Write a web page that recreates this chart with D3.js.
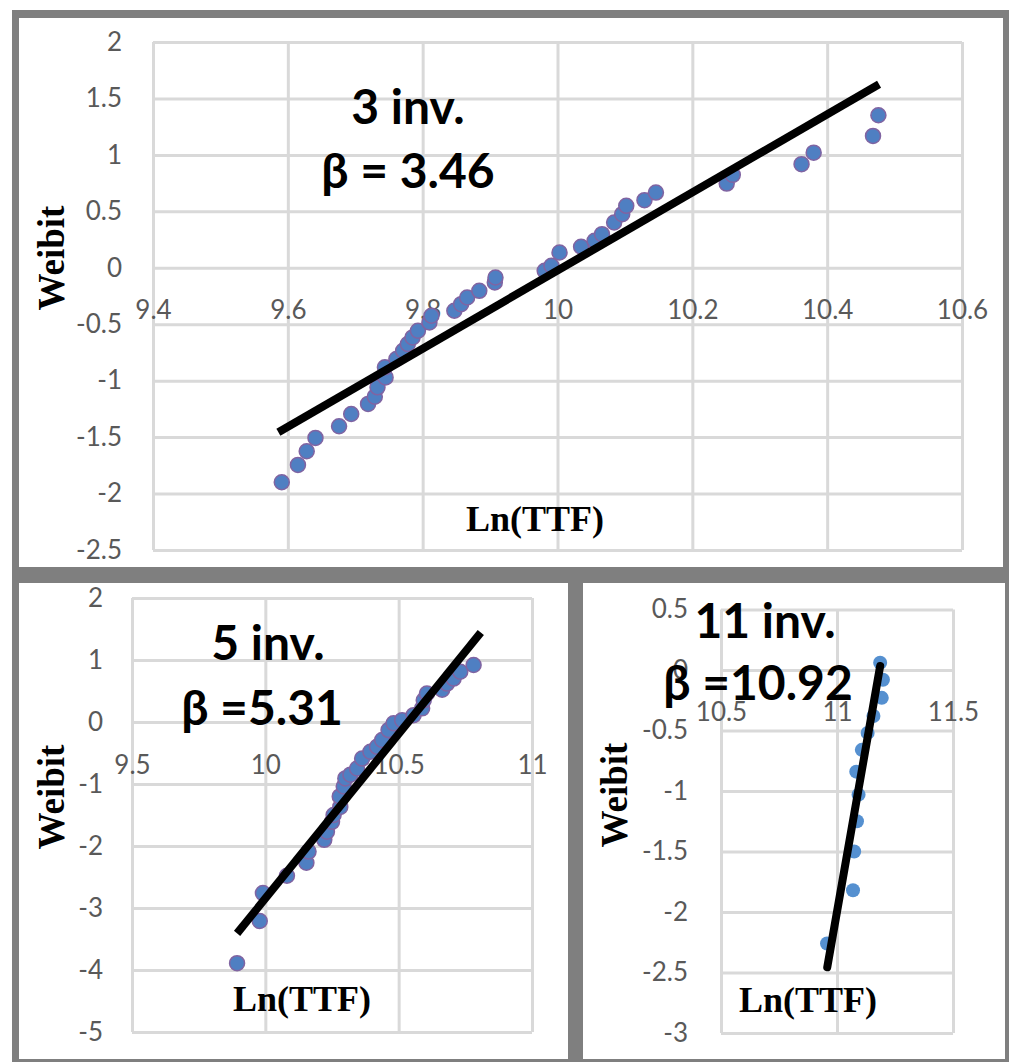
<!DOCTYPE html>
<html>
<head>
<meta charset="utf-8">
<script src="https://cdn.jsdelivr.net/npm/d3@7"></script>
<style>
  html, body { margin: 0; padding: 0; background: #fff; }
  svg { display: block; }
  .tick text { font-family: Lato, "Open Sans", sans-serif; font-size: 26px; fill: #595959; }
</style>
</head>
<body>
<svg id="chart" width="1009" height="1062"></svg>
<script>
// Weibull probability plots: Weibit vs Ln(TTF) for 3, 5 and 11 inverters

// 3 inverters
const lnTTF3 = [9.591, 9.615, 9.628, 9.641, 9.676, 9.694, 9.719, 9.729, 9.733, 9.745,
  9.744, 9.761, 9.771, 9.778, 9.785, 9.793, 9.810, 9.813, 9.847, 9.857,
  9.866, 9.884, 9.907, 9.908, 9.981, 9.991, 10.003, 10.035, 10.055, 10.066,
  10.084, 10.096, 10.102, 10.129, 10.146, 10.251, 10.260, 10.362, 10.380, 10.468, 10.476];
const weibit3 = [-1.90, -1.746, -1.625, -1.507, -1.404, -1.295, -1.206, -1.142, -1.059, -0.971,
  -0.882, -0.808, -0.735, -0.676, -0.617, -0.558, -0.484, -0.425, -0.381, -0.322,
  -0.263, -0.204, -0.130, -0.086, -0.027, 0.018, 0.135, 0.186, 0.239, 0.298,
  0.401, 0.475, 0.549, 0.599, 0.666, 0.746, 0.823, 0.918, 1.02, 1.168, 1.351];

// 5 inverters
const lnTTF5 = [9.894, 9.979, 9.991, 10.081, 10.154, 10.162, 10.221, 10.231, 10.250, 10.256,
  10.281, 10.279, 10.294, 10.300, 10.319, 10.344, 10.363, 10.394, 10.419, 10.438,
  10.462, 10.481, 10.513, 10.556, 10.588, 10.594, 10.606, 10.663, 10.681, 10.706,
  10.731, 10.781];
const weibit5 = [-3.89, -3.21, -2.76, -2.48, -2.27, -2.09, -1.90, -1.77, -1.61, -1.50,
  -1.37, -1.20, -1.04, -0.91, -0.85, -0.75, -0.59, -0.48, -0.40, -0.29,
  -0.13, -0.02, 0.03, 0.11, 0.22, 0.35, 0.46, 0.52, 0.62, 0.70,
  0.81, 0.92];

// 11 inverters
const lnTTF11 = [10.957, 11.069, 11.074, 11.086, 11.093, 11.083, 11.107, 11.132, 11.157, 11.193, 11.198, 11.186];
const weibit11 = [-2.26, -1.82, -1.50, -1.25, -1.03, -0.84, -0.66, -0.52, -0.38, -0.23, -0.08, 0.06];

// Fitted lines: Weibit = beta * (Ln(TTF) - x0)
const betas = [3.46, 5.31, 10.92];
const fitX0 = [10.007, 10.536, 11.183];
const fitFrom = [9.586, 9.894, 10.958];
const fitTo = [10.477, 10.808, 11.186];

// Axis ticks
const xTicks3 = [9.4, 9.6, 9.8, 10, 10.2, 10.4, 10.6];
const yTicks3 = [-2.5, -2, -1.5, -1, -0.5, 0, 0.5, 1, 1.5, 2];
const xTicks5 = [9.5, 10, 10.5, 11];
const yTicks5 = [-5, -4, -3, -2, -1, 0, 1, 2];
const xTicks11 = [10.5, 11, 11.5];
const yTicks11 = [-3, -2.5, -2, -1.5, -1, -0.5, 0, 0.5];

// Annotation text
const titles = ["3 inv.", "5 inv.", "11 inv."];
const betaLabels = ["β = 3.46", "β =5.31", "β =10.92"];
const xAxisTitle = "Ln(TTF)";
const yAxisTitle = "Weibit";

const svg = d3.select("#chart");

// Panel frames
svg.append("rect").attr("x", 12).attr("y", 10).attr("width", 997).attr("height", 1052).attr("fill", "#7f7f7f");
svg.append("rect").attr("x", 19).attr("y", 18).attr("width", 984).attr("height", 549).attr("fill", "#fff");
svg.append("rect").attr("x", 19).attr("y", 583).attr("width", 549).attr("height", 476).attr("fill", "#fff");
svg.append("rect").attr("x", 583).attr("y", 583).attr("width", 422).attr("height", 476).attr("fill", "#fff");

const panels = [
  { xs: lnTTF3, ys: weibit3, xd: [9.4, 10.6], yd: [-2.5, 2], xr: [153, 962], yr: [550, 42],
    xt: xTicks3, yt: yTicks3, yLabRight: 122, xLabY: 310,
    title: [408, 124], beta: [408, 188], wb: [64, 258], ln: [535, 531],
    fill: "#4f7fc2", stroke: "#8064a2", r: 7.5, cap: "butt" },
  { xs: lnTTF5, ys: weibit5, xd: [9.5, 11], yd: [-5, 2], xr: [132, 532], yr: [1032, 598],
    xt: xTicks5, yt: yTicks5, yLabRight: 103, xLabY: 765,
    title: [268, 660], beta: [262, 725], wb: [64, 797], ln: [302, 1011],
    fill: "#4f7fc2", stroke: "#8064a2", r: 7.5, cap: "butt" },
  { xs: lnTTF11, ys: weibit11, xd: [10.5, 11.5], yd: [-3, 0.5], xr: [721, 953], yr: [1033, 609.5],
    xt: xTicks11, yt: yTicks11, yLabRight: 688, xLabY: 712,
    title: [765, 638], beta: [758, 700], wb: [627, 795], ln: [808, 1012],
    fill: "#5590d0", stroke: "none", r: 7, cap: "round" }
];

panels.forEach((p, i) => {
  const x = d3.scaleLinear().domain(p.xd).range(p.xr);
  const y = d3.scaleLinear().domain(p.yd).range(p.yr);
  const g = svg.append("g");
  const w = p.xr[1] - p.xr[0], h = p.yr[0] - p.yr[1];

  // gridlines
  const gx = g.append("g").attr("transform", `translate(0,${p.yr[0]})`)
    .call(d3.axisBottom(x).tickValues(p.xt).tickSize(-h).tickFormat(""));
  const gy = g.append("g").attr("transform", `translate(${p.xr[0]},0)`)
    .call(d3.axisLeft(y).tickValues(p.yt).tickSize(-w).tickFormat(""));
  [gx, gy].forEach(a => {
    a.select(".domain").remove();
    a.selectAll("line").attr("stroke", "#d9d9d9").attr("stroke-width", 3);
  });

  // tick labels
  const ly = g.append("g").attr("transform", `translate(${p.xr[0]},0)`)
    .call(d3.axisLeft(y).tickValues(p.yt).tickSize(0).tickPadding(p.xr[0] - p.yLabRight).tickFormat(d => String(d)));
  ly.select(".domain").remove();
  const lx = g.append("g").attr("transform", `translate(0,${p.xLabY})`)
    .call(d3.axisBottom(x).tickValues(p.xt).tickSize(0).tickFormat(d => String(d)));
  lx.select(".domain").remove();
  lx.selectAll("text").attr("y", 0).attr("dy", "0.35em");

  // axis titles
  g.append("text").attr("transform", `translate(${p.wb[0]},${p.wb[1]}) rotate(-90)`)
    .attr("text-anchor", "middle")
    .style("font-family", "'Liberation Serif', 'Times New Roman', serif")
    .style("font-weight", "bold").style("font-size", "37px").text(yAxisTitle);
  g.append("text").attr("x", p.ln[0]).attr("y", p.ln[1])
    .attr("text-anchor", "middle")
    .style("font-family", "'Liberation Serif', 'Times New Roman', serif")
    .style("font-weight", "bold").style("font-size", "36px").text(xAxisTitle);

  // points
  g.append("g").selectAll("circle").data(p.xs.map((v, k) => [v, p.ys[k]])).join("circle")
    .attr("cx", d => x(d[0])).attr("cy", d => y(d[1])).attr("r", p.r)
    .attr("fill", p.fill).attr("stroke", p.stroke).attr("stroke-width", 1.5);

  // fitted line
  const fit = [fitFrom[i], fitTo[i]].map(v => [v, betas[i] * (v - fitX0[i])]);
  g.append("path").datum(fit)
    .attr("d", d3.line().x(d => x(d[0])).y(d => y(d[1])))
    .attr("stroke", "#000").attr("stroke-width", 8).attr("fill", "none")
    .attr("stroke-linecap", p.cap);

  // annotations
  const font = "Lato, 'Open Sans', sans-serif";
  g.append("text").attr("x", p.title[0]).attr("y", p.title[1]).attr("text-anchor", "middle")
    .style("font-family", font).style("font-weight", "bold").style("font-size", "48px").text(titles[i]);
  g.append("text").attr("x", p.beta[0]).attr("y", p.beta[1]).attr("text-anchor", "middle")
    .style("font-family", font).style("font-weight", "bold").style("font-size", "48px").text(betaLabels[i]);
});
</script>
</body>
</html>
